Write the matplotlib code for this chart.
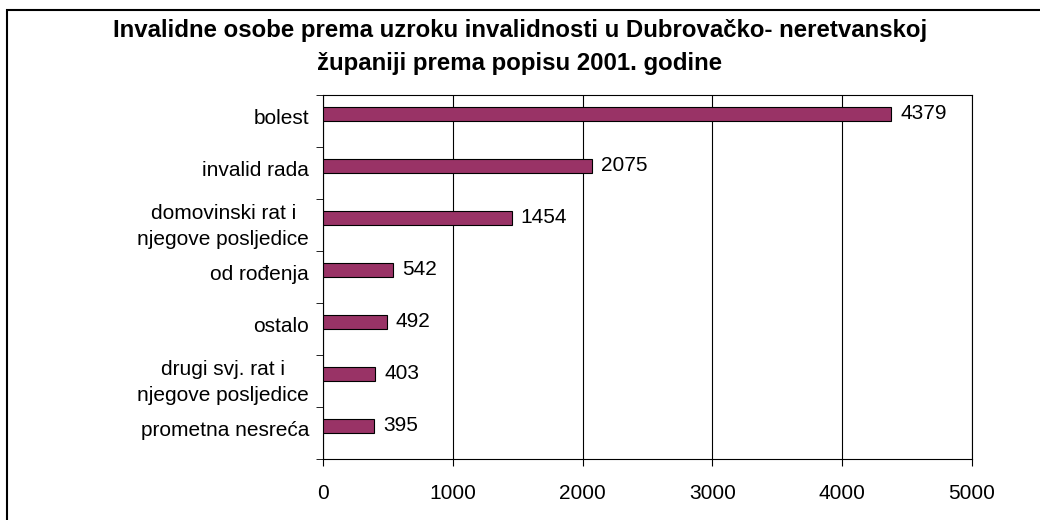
import numpy as np
import matplotlib.pyplot as plt
from matplotlib.patches import Rectangle

# Podaci
kategorije = ['bolest', 'invalid rada', 'domovinski rat i\nnjegove posljedice',
              'od rođenja', 'ostalo', 'drugi svj. rat i\nnjegove posljedice',
              'prometna nesreća']
vrijednosti = [4379, 2075, 1454, 542, 492, 403, 395]
x_ticks = [0, 1000, 2000, 3000, 4000, 5000]

plt.rcParams['font.family'] = ['Liberation Sans', 'DejaVu Sans']

fig = plt.figure(figsize=(10.4, 5.2), dpi=100)
ax = fig.add_axes([323/1040, 1-459/520, (972-323)/1040, (459-95)/520])

# okvir oko cijelog grafikona
fig.patches.append(Rectangle((7/1040, -0.1), 1.2, 1-10/520+0.1, transform=fig.transFigure,
                             fill=False, edgecolor='black', linewidth=1.5))

pos = np.arange(len(kategorije))
# stupci su malo pomaknuti prema gore unutar kategorije (kao u Excelu)
ax.barh(pos - 0.14, vrijednosti, height=0.27, color='#993366', edgecolor='black',
        linewidth=0.8, zorder=3)

for p, v in zip(pos, vrijednosti):
    ax.text(v + 70, p - 0.14, str(v), va='center', ha='left', fontsize=15)

ax.set_xlim(0, 5000)
ax.set_ylim(len(kategorije) - 0.5, -0.5)
ax.set_xticks(x_ticks)
ax.set_xticklabels([str(t) for t in x_ticks], fontsize=15)
ax.xaxis.grid(True, color='black', linewidth=0.8)
ax.set_axisbelow(True)

ax.set_yticks(pos - 0.08)
ax.set_yticklabels(kategorije, fontsize=15, multialignment='center', linespacing=1.45)
ax.tick_params(axis='y', length=0, pad=10)
ax.set_yticks(np.arange(len(kategorije) + 1) - 0.5, minor=True)
ax.tick_params(axis='y', which='minor', length=5, direction='out')
ax.tick_params(axis='x', length=5, direction='out', pad=13)

for s in ax.spines.values():
    s.set_color('black')
    s.set_linewidth(0.8)

fig.text(0.5, 1-47/520, 'Invalidne osobe prema uzroku invalidnosti u Dubrovačko- neretvanskoj\nžupaniji prema popisu 2001. godine',
         ha='center', va='center', fontsize=17.3, fontweight='bold', linespacing=1.6)

fig.savefig('out.png', dpi=100)
